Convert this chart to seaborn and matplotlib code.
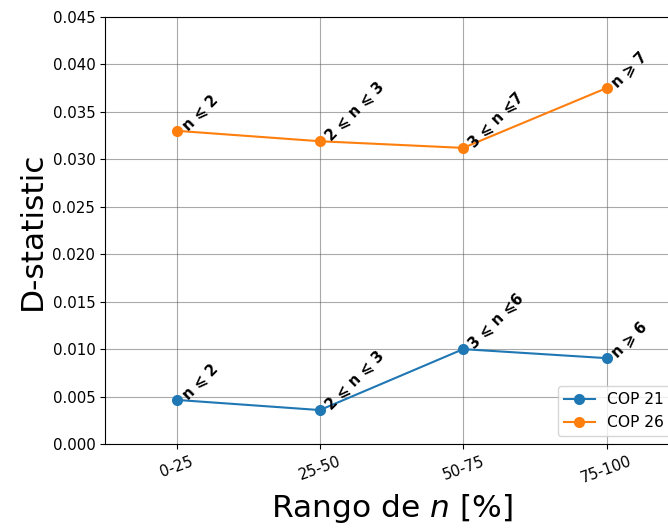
import matplotlib
matplotlib.use("Agg")
import matplotlib.pyplot as plt
import seaborn as sns
import pandas as pd

rangos = ["0-25", "25-50", "50-75", "75-100"]
cop21 = [0.00465, 0.00358, 0.0100, 0.00905]
cop26 = [0.0330, 0.0319, 0.0312, 0.0375]
etiquetas21 = ["n ⩽ 2", "2 ⩽ n ⩽ 3", "3 ⩽ n ⩽6", "n ⩾ 6"]
etiquetas26 = ["n ⩽ 2", "2 ⩽ n ⩽ 3", "3 ⩽ n ⩽7", "n ⩾ 7"]

df = pd.DataFrame({
    "rango": rangos * 2,
    "pos": list(range(len(rangos))) * 2,
    "D": cop21 + cop26,
    "serie": ["COP 21"] * 4 + ["COP 26"] * 4,
})

fig = plt.figure(figsize=(6.68, 5.28), dpi=100)
ax = fig.add_axes([0.1572, 0.159, 0.858, 0.809])

sns.lineplot(data=df, x="pos", y="D", hue="serie", marker="o", markersize=8,
             markeredgewidth=0, palette=["#1f77b4", "#ff7f0e"], ax=ax, sort=False)

for serie, etiquetas in ((cop21, etiquetas21), (cop26, etiquetas26)):
    for i, (v, t) in enumerate(zip(serie, etiquetas)):
        ax.annotate(t, (i, v), xytext=(2, -2), textcoords="offset points",
                    rotation=45, fontsize=10.5, fontweight="bold",
                    ha="left", va="bottom")

ax.set_xlim(-0.5, 3.5)
ax.set_ylim(0, 0.045)
ax.set_yticks([i * 0.005 for i in range(10)])
ax.set_xticks(range(len(rangos)))
ax.set_xticklabels(rangos, rotation=20)
ax.tick_params(labelsize=10.8)
ax.grid(True, color="#555555", alpha=0.5, linewidth=0.8)
ax.set_axisbelow(True)
ax.set_ylabel("D-statistic", fontsize=22.5)
ax.set_xlabel(r"Rango de $n$ [%]", fontsize=22.5)
ax.legend(loc="lower right", fontsize=11.2, title=None)

fig.savefig("out.png", dpi=100)
